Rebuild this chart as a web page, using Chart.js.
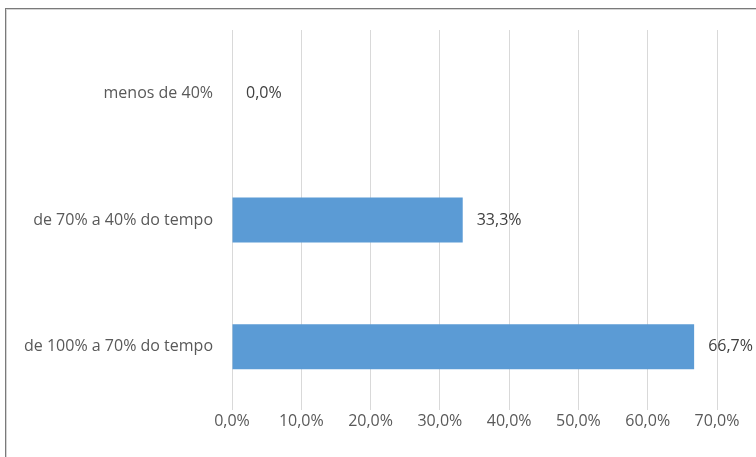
<!DOCTYPE html>
<html>
<head>
<meta charset="utf-8">
<script src="https://cdn.jsdelivr.net/npm/chart.js@4"></script>
<style>
  html, body { margin: 0; padding: 0; background: #fff; overflow: hidden; }
  #frame {
    position: absolute; left: 5px; top: 8px; width: 800px; height: 500px;
    border: 1px solid #7a7a7a; box-shadow: inset 1px 1px 0 #d4d4d4;
  }
  #wrap { position: absolute; left: 0; top: 0; width: 756px; height: 457px; }
</style>
</head>
<body>
<div id="frame"></div>
<div id="wrap"><canvas id="grafico"></canvas></div>
<script>
const categorias = ["menos de 40%", "de 70% a 40% do tempo", "de 100% a 70% do tempo"];
const valores = [0.0, 33.3, 66.7];
const eixoMin = 0;
const eixoMax = 70;
const eixoPasso = 10;

// formato pt-BR: virgula decimal
const fmt = (v) => v.toFixed(1).replace(".", ",") + "%";

// rotulos de dados ao lado das barras
const rotulosPlugin = {
  id: "rotulos",
  afterDatasetsDraw(chart) {
    const ctx = chart.ctx;
    const meta = chart.getDatasetMeta(0);
    ctx.save();
    ctx.font = "16px 'Open Sans'";
    ctx.fillStyle = "#404040";
    ctx.textAlign = "left";
    ctx.textBaseline = "middle";
    meta.data.forEach((bar, i) => {
      ctx.fillText(fmt(valores[i]), bar.x + 14, bar.y);
    });
    ctx.restore();
  },
};

new Chart(document.getElementById("grafico"), {
  type: "bar",
  data: {
    labels: categorias,
    datasets: [{
      data: valores,
      backgroundColor: "#5b9bd5",
      borderWidth: 0,
      categoryPercentage: 1,
      barPercentage: 0.355,
    }],
  },
  options: {
    indexAxis: "y",
    responsive: true,
    maintainAspectRatio: false,
    animation: false,
    layout: { padding: { top: 30, right: 39, bottom: 0, left: 0 } },
    plugins: { legend: { display: false }, tooltip: { enabled: false } },
    scales: {
      x: {
        min: eixoMin,
        max: eixoMax,
        ticks: {
          stepSize: eixoPasso,
          padding: 2,
          color: "#595959",
          font: { family: "'Open Sans'", size: 16 },
          callback: (v) => fmt(v),
        },
        grid: { color: "#d9d9d9", drawTicks: false },
        border: { display: false },
        afterFit: (s) => { s.height = 47; },
      },
      y: {
        reverse: false,
        ticks: {
          padding: 19,
          color: "#595959",
          font: { family: "'Open Sans'", size: 16 },
        },
        grid: { display: false, drawTicks: false },
        border: { display: false },
        afterFit: (s) => { s.width = 232; },
      },
    },
  },
  plugins: [rotulosPlugin],
});
</script>
</body>
</html>
